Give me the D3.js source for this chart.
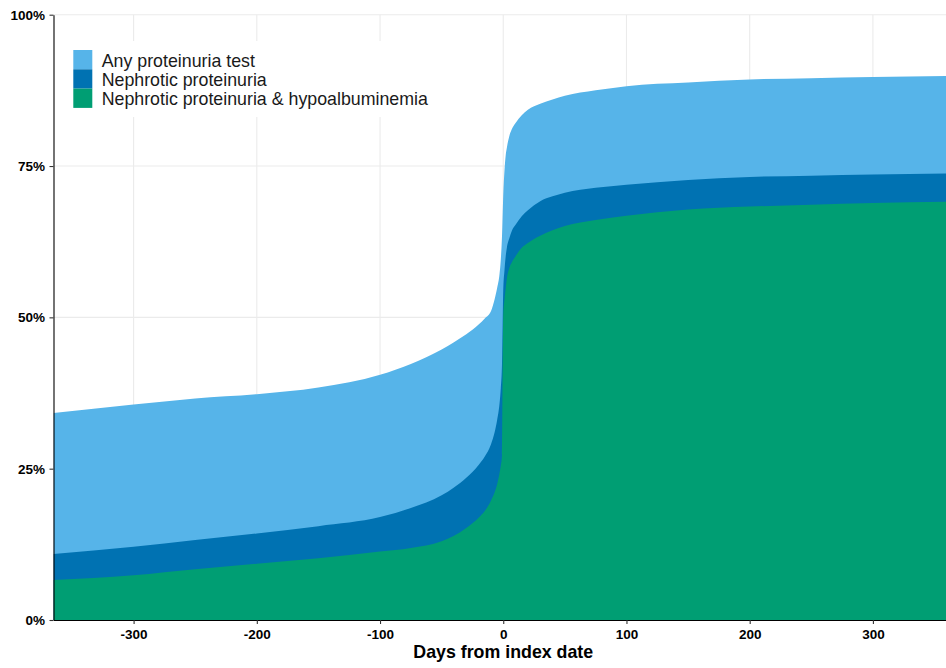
<!DOCTYPE html>
<html>
<head>
<meta charset="utf-8">
<script src="https://cdn.jsdelivr.net/npm/d3@7"></script>
<style>
  html, body { margin: 0; padding: 0; background: #fff; }
  svg { display: block; font-family: "Liberation Sans", Arial, sans-serif; }
</style>
</head>
<body>
<svg id="chart" width="946" height="668"></svg>
<script>
// Days relative to the index date
const days = [-365, -300, -250, -200, -150, -100, -75, -50, -40, -30, -20, -15, -10, -7, -5, -3, -2, -1,
  0, 1, 2, 3, 5, 7, 10, 15, 20, 30, 40, 50, 75, 100, 150, 200, 250, 300, 365];

// Cumulative share of patients (%) by day
const anyTest = [34.2, 35.6, 36.6, 37.3, 38.4, 40.5, 42.3, 44.7, 45.9, 47.2, 48.8, 49.8, 51.0, 53.0, 54.8, 57.2, 59.5, 63.5,
  70.2, 74.3, 76.8, 78.1, 80.0, 81.1, 82.1, 83.4, 84.3, 85.3, 86.0, 86.6, 87.5, 88.2, 88.8, 89.3, 89.5, 89.7, 89.9];
const nephrotic = [10.9, 12.1, 13.2, 14.3, 15.5, 17.0, 18.5, 20.6, 21.9, 23.5, 25.6, 27.0, 29.0, 31.0, 33.0, 35.8, 38.3, 42.5,
  54.5, 57.8, 60.1, 61.6, 63.1, 64.3, 65.3, 66.7, 67.7, 69.2, 70.0, 70.6, 71.4, 71.9, 72.7, 73.2, 73.4, 73.6, 73.8];
const nephroticHypoalb = [6.6, 7.4, 8.4, 9.3, 10.2, 11.3, 11.9, 13.0, 13.9, 15.2, 16.9, 18.0, 19.7, 21.1, 22.4, 24.3, 25.5, 27.3,
  50.4, 52.9, 54.8, 56.5, 58.2, 59.1, 60.1, 61.5, 62.3, 63.5, 64.4, 65.1, 66.1, 66.8, 67.8, 68.3, 68.6, 68.9, 69.1];

const seriesNames = ["Any proteinuria test", "Nephrotic proteinuria", "Nephrotic proteinuria & hypoalbuminemia"];
const seriesColors = ["#56B4E9", "#0072B2", "#009E73"];
const seriesValues = [anyTest, nephrotic, nephroticHypoalb];

const xTicks = [-300, -200, -100, 0, 100, 200, 300];
const yTicks = [0, 25, 50, 75, 100];

const svg = d3.select("#chart");
const plotLeft = 53.5, plotTop = 14.7, plotBottom = 620, plotRight = 953;

const x = d3.scaleLinear().domain([-365, 365]).range([plotLeft, plotRight]);
const y = d3.scaleLinear().domain([0, 100]).range([plotBottom, plotTop]);

// Grid
const grid = svg.append("g").attr("stroke", "#ebebeb").attr("stroke-width", 1.1);
grid.selectAll("line.v").data(xTicks).join("line").attr("class", "v")
  .attr("x1", d => x(d)).attr("x2", d => x(d)).attr("y1", plotTop).attr("y2", plotBottom);
grid.selectAll("line.h").data(yTicks).join("line").attr("class", "h")
  .attr("x1", plotLeft).attr("x2", 946).attr("y1", d => y(d)).attr("y2", d => y(d));

// Overlaid cumulative areas
svg.append("defs").append("clipPath").attr("id", "plotClip")
  .append("rect").attr("x", plotLeft).attr("y", plotTop)
  .attr("width", plotRight - plotLeft).attr("height", plotBottom - plotTop);

const areaGroup = svg.append("g").attr("clip-path", "url(#plotClip)");
seriesValues.forEach((vals, i) => {
  const pts = days.map((d, j) => [d, vals[j]]);
  const area = d3.area()
    .x(p => x(p[0]))
    .y0(y(0))
    .y1(p => y(p[1]))
    .curve(d3.curveMonotoneX);
  areaGroup.append("path").datum(pts).attr("d", area).attr("fill", seriesColors[i]);
});

// Axes
const xAxis = svg.append("g").attr("transform", `translate(0,${plotBottom})`)
  .call(d3.axisBottom(x).tickValues(xTicks).tickFormat(d => String(d))
    .tickSize(4).tickSizeOuter(0).tickPadding(5.5));
const yAxis = svg.append("g").attr("transform", `translate(${plotLeft},0)`)
  .call(d3.axisLeft(y).tickValues(yTicks).tickFormat(d => d + "%")
    .tickSize(4).tickSizeOuter(0).tickPadding(4.5));

[xAxis, yAxis].forEach(g => {
  g.select(".domain").attr("stroke", "#000").attr("stroke-width", 1.1);
  g.selectAll(".tick line").attr("stroke", "#333").attr("stroke-width", 1.1);
  g.selectAll(".tick text").attr("fill", "#000").attr("font-size", 13.5).attr("font-weight", "bold")
    .attr("font-family", "'Liberation Sans', Arial, sans-serif");
});

// Axis title
svg.append("text")
  .attr("x", x(0)).attr("y", 658)
  .attr("text-anchor", "middle")
  .attr("font-size", 17.8).attr("font-weight", "bold").attr("fill", "#000")
  .text("Days from index date");

// Legend
const legend = svg.append("g");
legend.append("rect").attr("x", 64).attr("y", 41).attr("width", 380).attr("height", 76).attr("fill", "#fff");
seriesNames.forEach((name, i) => {
  const yy = 50 + i * 19.3;
  legend.append("rect").attr("x", 73.3).attr("y", yy).attr("width", 19).attr("height", 19.3).attr("fill", seriesColors[i]);
  legend.append("text").attr("x", 101.7).attr("y", yy + 16.6)
    .attr("font-size", 17.8).attr("fill", "#1a1a1a").text(name);
});
</script>
</body>
</html>
